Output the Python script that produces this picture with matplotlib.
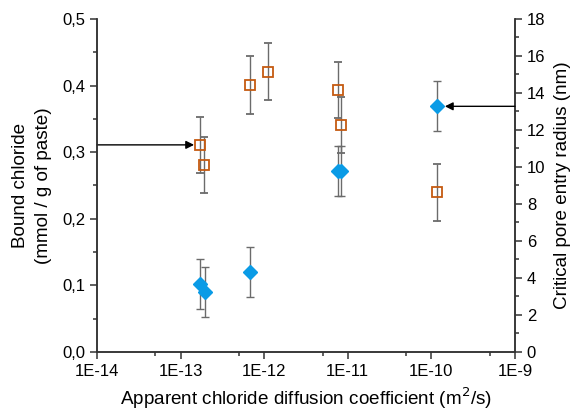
import matplotlib
matplotlib.use("Agg")
import matplotlib.pyplot as plt
from matplotlib.ticker import FixedLocator, FuncFormatter
import numpy as np

plt.rcParams['font.family'] = ['Liberation Sans', 'DejaVu Sans']

# Bound chloride (left axis)
d_cl = [1.71e-13, 1.92e-13, 6.8e-13, 1.11e-12, 7.6e-12, 8.2e-12, 1.18e-10]
bound_cl = [0.311, 0.281, 0.401, 0.421, 0.394, 0.341, 0.240]
bound_err = [0.042, 0.042, 0.043, 0.043, 0.042, 0.042, 0.043]

# Critical pore entry radius (right axis)
d_pore = [1.71e-13, 1.96e-13, 6.8e-13, 7.6e-12, 8.2e-12, 1.18e-10]
radius = [3.7, 3.25, 4.3, 9.8, 9.8, 13.28]
radius_err = [1.35, 1.35, 1.35, 1.35, 1.35, 1.35]

xticks = [1e-14, 1e-13, 1e-12, 1e-11, 1e-10, 1e-9]
xtick_labels = ['1E-14', '1E-13', '1E-12', '1E-11', '1E-10', '1E-9']

orange = '#C55A11'
blue = '#0A9BE6'
ecol = '#6b6b6b'

fig = plt.figure(figsize=(5.72, 4.13), dpi=100)
ax = fig.add_axes([0.1696, 0.1477, 0.7307, 0.8063])
ax2 = ax.twinx()

ax.errorbar(d_cl, bound_cl, yerr=bound_err, fmt='s', mfc='none', mec=orange,
            mew=1.3, ms=7, ecolor=ecol, elinewidth=1, capsize=3, capthick=1, zorder=3)
ax2.errorbar(d_pore, radius, yerr=radius_err, fmt='D', mfc=blue, mec=blue,
             ms=7.5, ecolor=ecol, elinewidth=1, capsize=3, capthick=1, zorder=3)

ax.set_xscale('log')
ax.set_xlim(1e-14, 1e-9)
ax.set_ylim(0, 0.5)
ax2.set_ylim(0, 18)

ax.xaxis.set_major_locator(FixedLocator(xticks))
ax.set_xticklabels(xtick_labels)
ax.xaxis.set_minor_locator(FixedLocator([5e-14, 5e-13, 5e-12, 5e-11, 5e-10]))
ax.xaxis.set_minor_formatter(FuncFormatter(lambda v, p: ''))

ax.yaxis.set_major_locator(FixedLocator(np.arange(0, 0.51, 0.1)))
ax.yaxis.set_minor_locator(FixedLocator(np.arange(0.05, 0.5, 0.1)))
ax.yaxis.set_major_formatter(FuncFormatter(lambda v, p: f'{v:.1f}'.replace('.', ',')))

ax2.yaxis.set_major_locator(FixedLocator(np.arange(0, 19, 2)))
ax2.yaxis.set_minor_locator(FixedLocator(np.arange(1, 18, 2)))

for a in (ax, ax2):
    a.spines['top'].set_visible(False)
    for s in a.spines.values():
        s.set_linewidth(1.1)
        s.set_color('#333333')
    a.tick_params(which='major', direction='out', length=5, width=1.1, labelsize=12, color='#333333')
    a.tick_params(which='minor', direction='out', length=3, width=1.1, color='#333333')

ax.set_xlabel('Apparent chloride diffusion coefficient (m$^2$/s)', fontsize=13.6, labelpad=5)
ax.set_ylabel('Bound chloride\n(mmol / g of paste)', fontsize=13.6, labelpad=7, linespacing=1.5)
ax2.set_ylabel('Critical pore entry radius (nm)', fontsize=13.6, labelpad=6)

# Arrows
ax.annotate('', xy=(1.45e-13, 0.311), xytext=(1e-14, 0.311),
            arrowprops=dict(arrowstyle='-|>', color='black', lw=1, mutation_scale=12,
                            shrinkA=0, shrinkB=0), zorder=4)
ax2.annotate('', xy=(1.45e-10, 13.28), xytext=(1e-9, 13.28),
             arrowprops=dict(arrowstyle='-|>', color='black', lw=1, mutation_scale=12,
                             shrinkA=0, shrinkB=0), zorder=4)

fig.savefig('out.png', dpi=100)
